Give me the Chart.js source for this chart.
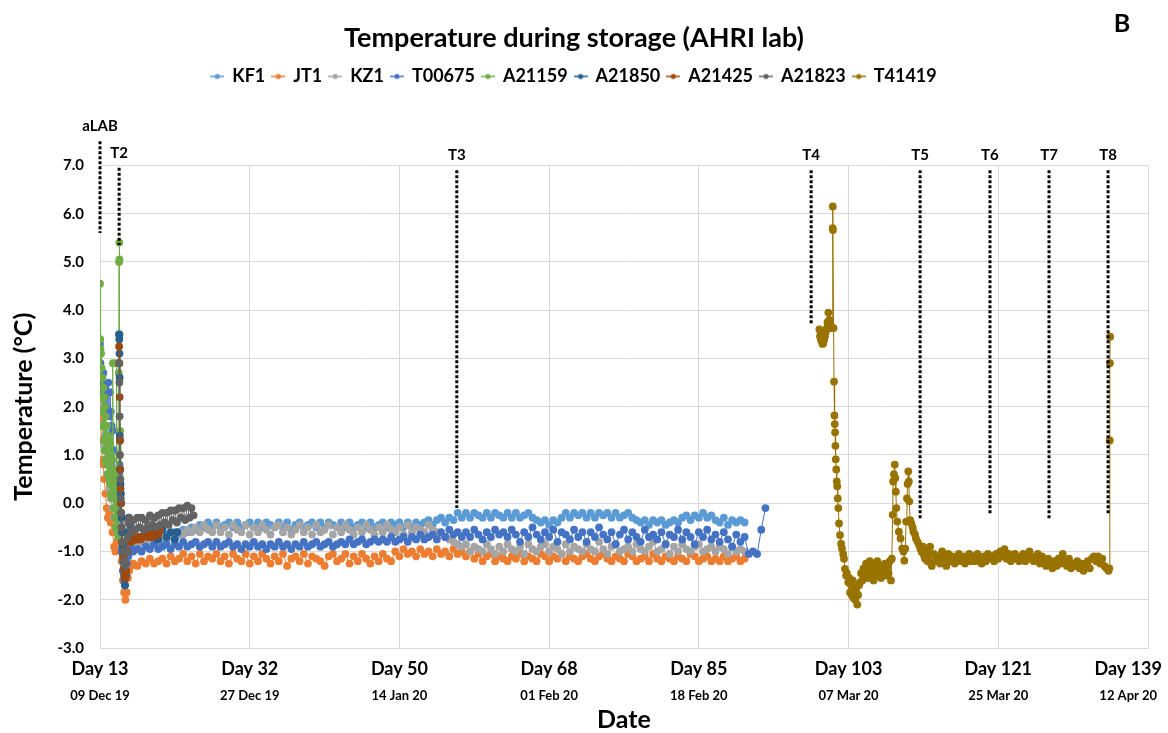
<!DOCTYPE html>
<html>
<head>
<meta charset="utf-8">
<title>Temperature during storage (AHRI lab)</title>
<script src="https://cdn.jsdelivr.net/npm/chart.js@4.4.1/dist/chart.umd.min.js"></script>
<style>
  html, body { margin: 0; padding: 0; background: #fff; }
  #wrap { width: 1168px; height: 733px; }
</style>
</head>
<body>
<div id="wrap"><canvas id="temp_canvas" width="1168" height="733"></canvas></div>
<script>
/*--------------------------------------------------------------------------------
----- DATA
--------------------------------------------------------------------------------*/

// x axis: storage day, one gridline every 18 days
const dayTicks = [13, 31, 49, 67, 85, 103, 121, 139];
const dayLabels = ['Day 13', 'Day 32', 'Day 50', 'Day 68', 'Day 85', 'Day 103', 'Day 121', 'Day 139'];
const dateLabels = ['09 Dec 19', '27 Dec 19', '14 Jan 20', '01 Feb 20', '18 Feb 20', '07 Mar 20', '25 Mar 20', '12 Apr 20'];

// sampling events (dotted vertical markers)
const markerNames = ['aLAB', 'T2', 'T3', 'T4', 'T5', 'T6', 'T7', 'T8'];
const markerDays = [13.0, 15.3, 55.9, 98.5, 111.6, 120.0, 127.1, 134.2];
const markerTop = [7.5, 6.95, 6.9, 6.9, 6.9, 6.9, 6.9, 6.9];
const markerBottom = [5.6, 5.35, -0.1, 3.7, -0.35, -0.25, -0.35, -0.25];

// logger readings: [day, temperature] for the irregular parts,
// plain temperature lists where the logger runs at a steady interval
const LOG_STEP = 0.5;

const kf1Early = [[13.0,2.9],[13.1,2.5],[13.2,2.2],[13.35,1.9],[13.5,1.6],[13.65,1.4],[13.8,1.2],[14.0,1.0],[14.2,0.8],[14.4,0.5],[14.6,0.2],[14.8,-0.1],[15.0,-0.3],[15.2,-0.4],[15.35,0.6],[15.5,-0.3],[15.7,-0.9],[15.9,-1.3],[16.1,-1.45],[16.3,-1.2],[16.5,-1.0],[16.75,-0.95]];
const kf1Log = [
  -0.9,-0.85,-0.8,-0.85,-0.75,-0.8,-0.7,-0.75,-0.65,-0.7,
  -0.6,-0.65,-0.55,-0.6,-0.5,-0.55,-0.45,-0.5,-0.4,-0.5,
  -0.4,-0.5,-0.45,-0.4,-0.5,-0.4,-0.5,-0.45,-0.4,-0.5,
  -0.4,-0.5,-0.4,-0.45,-0.5,-0.4,-0.5,-0.4,-0.55,-0.45,
  -0.4,-0.5,-0.45,-0.4,-0.5,-0.4,-0.5,-0.4,-0.45,-0.5,
  -0.4,-0.5,-0.4,-0.5,-0.45,-0.4,-0.5,-0.4,-0.5,-0.45,
  -0.4,-0.5,-0.4,-0.45,-0.4,-0.5,-0.4,-0.5,-0.4,-0.45,
  -0.4,-0.35,-0.45,-0.35,-0.3,-0.4,-0.3,-0.35,-0.2,-0.3,
  -0.2,-0.3,-0.2,-0.25,-0.3,-0.2,-0.3,-0.2,-0.25,-0.3,
  -0.2,-0.3,-0.2,-0.3,-0.25,-0.2,-0.3,-0.35,-0.4,-0.35,
  -0.45,-0.35,-0.4,-0.3,-0.2,-0.3,-0.2,-0.25,-0.2,-0.3,
  -0.2,-0.3,-0.2,-0.25,-0.2,-0.3,-0.2,-0.3,-0.25,-0.2,
  -0.3,-0.35,-0.4,-0.35,-0.45,-0.35,-0.4,-0.35,-0.45,-0.4,
  -0.35,-0.4,-0.3,-0.25,-0.35,-0.25,-0.3,-0.2,-0.3,-0.25,
  -0.35,-0.4,-0.3,-0.45,-0.35,-0.4,-0.35,-0.4
];

const jt1Early = [[13.0,2.2],[13.1,1.7],[13.2,1.3],[13.3,0.9],[13.4,0.8],[13.5,0.5],[13.65,0.2],[13.8,-0.1],[13.95,-0.3],[14.1,-0.2],[14.3,-0.4],[14.5,-0.6],[14.7,-0.9],[14.85,-1.0],[15.0,-0.8],[15.2,-0.5],[15.35,0.4],[15.45,-0.6],[15.6,-1.2],[15.75,-1.6],[15.9,-1.85],[16.05,-2.0],[16.2,-1.85],[16.35,-1.55],[16.5,-1.4],[16.7,-1.3],[16.85,-1.25]];
const jt1Log = [
  -1.25,-1.3,-1.2,-1.25,-1.15,-1.25,-1.2,-1.15,-1.25,-1.1,
  -1.2,-1.15,-1.05,-1.2,-1.1,-1.25,-1.05,-1.2,-1.1,-1.15,
  -1.05,-1.2,-1.1,-1.25,-1.05,-1.15,-1.2,-1.05,-1.25,-1.1,
  -1.2,-1.05,-1.15,-1.25,-1.1,-1.2,-1.05,-1.3,-1.15,-1.1,
  -1.2,-1.05,-1.25,-1.1,-1.15,-1.2,-1.3,-1.1,-1.05,-1.2,
  -1.15,-1.05,-1.25,-1.1,-1.2,-1.05,-1.15,-1.25,-1.1,-1.2,
  -1.05,-1.15,-1.2,-1.0,-1.1,-0.95,-1.05,-1.0,-1.1,-0.95,
  -1.05,-1.0,-1.1,-0.95,-1.05,-1.0,-1.1,-0.95,-1.05,-1.0,
  -1.1,-1.0,-1.15,-1.05,-1.2,-1.1,-1.05,-1.2,-1.1,-1.15,
  -1.2,-1.1,-1.15,-1.05,-1.2,-1.1,-1.15,-1.2,-1.05,-1.1,
  -1.2,-1.1,-1.15,-1.05,-1.2,-1.1,-1.15,-1.2,-1.1,-1.05,
  -1.15,-1.2,-1.1,-1.05,-1.15,-1.2,-1.1,-1.15,-1.2,-1.05,
  -1.1,-1.2,-1.15,-1.1,-1.2,-1.05,-1.15,-1.2,-1.1,-1.15,
  -1.2,-1.1,-1.15,-1.2,-1.05,-1.1,-1.2,-1.15,-1.1,-1.2,
  -1.15,-1.2,-1.1,-1.2,-1.15,-1.1,-1.2,-1.15
];

const kz1Early = [[13.0,2.5],[13.15,2.0],[13.3,1.6],[13.5,1.2],[13.7,0.9],[13.9,0.6],[14.1,0.3],[14.3,0.1],[14.5,-0.1],[14.7,-0.3],[14.9,-0.5],[15.1,-0.6],[15.3,0.2],[15.45,-0.4],[15.6,-0.9],[15.8,-1.2],[16.0,-1.35],[16.2,-1.2],[16.4,-1.0],[16.7,-0.9]];
const kz1Log = [
  -0.85,-0.9,-0.8,-0.85,-0.8,-0.75,-0.8,-0.7,-0.75,-0.65,
  -0.7,-0.6,-0.65,-0.55,-0.6,-0.5,-0.6,-0.45,-0.55,-0.6,
  -0.45,-0.6,-0.5,-0.65,-0.45,-0.55,-0.6,-0.45,-0.65,-0.5,
  -0.6,-0.45,-0.55,-0.65,-0.5,-0.45,-0.6,-0.5,-0.65,-0.55,
  -0.45,-0.6,-0.5,-0.65,-0.45,-0.6,-0.55,-0.45,-0.65,-0.5,
  -0.6,-0.45,-0.55,-0.65,-0.5,-0.6,-0.45,-0.55,-0.65,-0.5,
  -0.6,-0.45,-0.55,-0.6,-0.5,-0.65,-0.45,-0.6,-0.5,-0.55,
  -0.6,-0.45,-0.55,-0.6,-0.65,-0.7,-0.75,-0.8,-0.85,-0.9,
  -0.85,-1.0,-0.9,-0.95,-1.0,-0.85,-0.95,-1.05,-0.9,-1.0,
  -0.85,-0.95,-1.0,-0.9,-1.05,-0.85,-0.95,-1.0,-0.9,-0.85,
  -1.0,-0.9,-0.95,-1.05,-0.85,-1.0,-0.9,-0.95,-1.0,-0.85,
  -0.95,-1.0,-0.8,-0.95,-1.05,-0.9,-0.85,-1.0,-0.95,-0.9,
  -1.0,-0.85,-0.95,-1.0,-0.9,-0.8,-1.0,-0.95,-0.85,-1.05,
  -0.9,-1.0,-0.85,-0.95,-1.0,-0.9,-0.85,-1.0,-0.95,-0.9,
  -1.0,-0.9,-0.95,-1.05,-0.9,-1.0,-0.95,-1.0
];

const t00675Early = [[13.0,3.3],[13.05,2.9],[13.1,2.7],[13.15,2.5],[13.2,2.6],[13.3,2.3],[13.4,2.7],[13.5,2.2],[13.6,2.4],[13.7,2.0],[13.8,2.3],[13.9,1.9],[14.0,2.5],[14.1,1.8],[14.2,2.3],[14.3,1.9],[14.4,1.6],[14.5,1.5],[14.65,1.1],[14.8,0.6],[14.95,0.2],[15.1,-0.1],[15.25,-0.2],[15.35,0.8],[15.45,-0.3],[15.6,-1.0],[15.75,-1.4],[15.9,-1.6],[16.0,-1.7],[16.1,-1.5],[16.25,-1.25],[16.4,-1.1],[16.6,-1.0],[16.8,-0.95]];
const t00675Log = [
  -1.0,-0.95,-1.0,-0.9,-0.95,-0.85,-0.95,-0.9,-0.85,-0.95,
  -0.85,-0.9,-0.8,-0.9,-0.85,-0.8,-0.9,-0.85,-0.8,-0.9,
  -0.8,-0.9,-0.85,-0.8,-0.9,-0.85,-0.95,-0.85,-0.9,-0.8,
  -0.9,-0.85,-0.95,-0.85,-0.9,-0.8,-0.9,-0.85,-0.95,-0.85,
  -0.9,-0.8,-0.9,-0.85,-0.8,-0.9,-0.85,-0.8,-0.9,-0.85,
  -0.8,-0.85,-0.75,-0.85,-0.8,-0.75,-0.85,-0.8,-0.75,-0.8,
  -0.75,-0.8,-0.7,-0.8,-0.75,-0.7,-0.8,-0.7,-0.75,-0.65,
  -0.75,-0.7,-0.65,-0.75,-0.6,-0.7,-0.55,-0.65,-0.6,-0.7,
  -0.6,-0.7,-0.55,-0.65,-0.75,-0.6,-0.7,-0.55,-0.65,-0.6,
  -0.7,-0.55,-0.65,-0.8,-0.6,-0.7,-0.5,-0.65,-0.75,-0.6,
  -0.7,-0.55,-0.8,-0.6,-0.65,-0.75,-0.55,-0.7,-0.6,-0.8,
  -0.6,-0.7,-0.5,-0.65,-0.75,-0.6,-0.85,-0.65,-0.55,-0.75,
  -0.6,-0.7,-0.8,-0.55,-0.7,-0.65,-0.75,-0.6,-0.85,-0.65,
  -0.7,-0.55,-0.75,-0.6,-0.7,-0.85,-0.6,-0.7,-0.55,-0.75,
  -0.65,-0.8,-0.6,-0.75,-0.9,-0.65,-0.8,-0.7,-1.05,-1.0,
  -1.05,-0.55,-0.1
];

const a21159Pairs = [[13.0,4.55],[13.03,3.4],[13.06,3.2],[13.1,2.6],[13.13,3.1],[13.17,2.2],[13.2,2.8],[13.25,1.9],[13.3,2.6],[13.35,1.6],[13.4,2.4],[13.45,1.3],[13.5,2.2],[13.55,1.1],[13.6,2.0],[13.65,0.9],[13.7,1.8],[13.8,0.8],[13.85,1.6],[13.9,0.6],[14.0,1.4],[14.05,0.5],[14.1,1.3],[14.2,0.4],[14.25,1.2],[14.3,0.2],[14.4,1.0],[14.45,0.1],[14.5,0.9],[14.55,2.9],[14.6,0.7],[14.65,-0.1],[14.7,0.6],[14.8,-0.3],[14.85,0.4],[14.9,-0.5],[14.95,0.3],[15.0,2.9],[15.05,0.1],[15.1,-0.6],[15.15,0.0],[15.2,-0.7],[15.25,2.7],[15.28,3.5],[15.3,5.0],[15.32,5.4],[15.34,5.05],[15.36,3.5],[15.42,1.5],[15.5,0.2]];

const a21850Pairs = [[15.3,3.5],[15.32,3.4],[15.34,3.1],[15.36,2.6],[15.38,1.4],[15.4,1.3],[15.43,0.7],[15.46,0.4],[15.5,0.2],[15.55,0.0],[15.6,-0.3],[15.65,-0.6],[15.7,-0.9],[15.8,-1.2],[15.9,-1.5],[16.0,-1.7],[16.1,-1.5],[16.2,-1.0],[16.3,-0.6],[16.45,-0.3],[16.6,-0.45],[16.8,-0.6],[17.0,-0.7],[17.5,-0.75],[18.0,-0.7],[18.5,-0.65],[19.0,-0.7],[19.5,-0.6],[20.0,-0.75],[20.5,-0.55],[21.0,-0.7],[21.5,-0.6],[22.0,-0.75],[22.3,-0.6]];

const a21425Pairs = [[15.3,3.25],[15.33,2.9],[15.36,2.2],[15.4,1.3],[15.43,0.7],[15.47,0.3],[15.5,0.0],[15.55,-0.2],[15.6,-0.5],[15.65,-0.8],[15.75,-1.1],[15.85,-1.35],[15.95,-1.5],[16.05,-1.55],[16.15,-1.4],[16.3,-1.0],[16.45,-0.8],[16.6,-0.75],[16.8,-0.8],[17.0,-0.7],[17.3,-0.75],[17.6,-0.7],[17.9,-0.75],[18.2,-0.7],[18.5,-0.65],[18.8,-0.7],[19.1,-0.65],[19.4,-0.7],[19.7,-0.6],[20.0,-0.65],[20.2,-0.55]];

const a21823Early = [[15.3,2.9],[15.33,2.5],[15.36,1.8],[15.4,1.0],[15.45,0.5],[15.5,0.1],[15.55,-0.2],[15.6,-0.5],[15.7,-0.8],[15.8,-1.0],[15.9,-1.2],[16.0,-1.3],[16.1,-1.25],[16.2,-1.0],[16.3,-0.7],[16.4,-0.4],[16.5,-0.3]];
const a21823Log = [
  -0.6,-0.35,-0.55,-0.3,-0.5,-0.3,-0.55,-0.35,-0.5,-0.25,
  -0.45,-0.3,-0.5,-0.25,-0.45,-0.2,-0.4,-0.2,-0.45,-0.15,
  -0.35,-0.15,-0.4,-0.1,-0.3,-0.1,-0.35,-0.05,-0.3,-0.1,
  -0.25
];

const t41419Early = [[99.49,3.6],[99.57,3.46],[99.67,3.4],[99.77,3.35],[99.87,3.3],[99.97,3.32],[100.07,3.4],[100.17,3.46],[100.27,3.55],[100.38,3.63],[100.47,3.75],[100.57,3.95],[100.69,3.8],[100.78,3.7],[100.86,3.63],[100.96,3.65],[101.05,3.63],[101.09,5.7],[101.1,6.15],[101.12,5.66],[101.2,3.63],[101.25,2.52],[101.3,1.82],[101.34,1.64],[101.38,1.47],[101.42,1.19],[101.46,0.91],[101.52,0.7],[101.58,0.45],[101.64,0.35],[101.7,0.1],[101.77,-0.1],[101.85,-0.42],[101.97,-0.66],[102.1,-0.84],[102.21,-0.94],[102.35,-1.05],[102.45,-1.15],[102.57,-1.36],[102.7,-1.5],[102.8,-1.45],[102.97,-1.64],[103.08,-1.55],[103.18,-1.85],[103.3,-1.7],[103.4,-1.9],[103.5,-1.6],[103.57,-1.96],[103.7,-1.75],[103.8,-2.0],[103.9,-1.8],[104.05,-2.1],[104.15,-1.9],[104.25,-1.7],[104.38,-1.64],
  [104.5,-1.45],[104.65,-1.6],[104.8,-1.35],[104.95,-1.5],[105.1,-1.25],[105.25,-1.55],[105.4,-1.4],[105.55,-1.2],[105.7,-1.5],[105.85,-1.35],[106.0,-1.6],[106.15,-1.3],[106.3,-1.45],[106.45,-1.2],[106.6,-1.5],[106.75,-1.35],[106.9,-1.55],[107.05,-1.3],[107.2,-1.45],[107.35,-1.25],[107.5,-1.5],[107.65,-1.3],[107.8,-1.45],[107.95,-1.2],[108.1,-1.6],[108.2,-1.15],
  [108.3,-0.24],[108.36,0.45],[108.45,0.6],[108.55,0.8],[108.62,0.52],[108.68,0.24],[108.75,-0.1],[108.85,-0.38],[109.05,-0.59],[109.25,-0.73],[109.45,-0.94],[109.6,-1.0],[109.7,-1.19],[109.82,-0.94],[109.92,-0.38],[110.02,0.1],[110.1,0.4],[110.18,0.66],[110.25,0.45],[110.3,0.04],[110.4,-0.35],[110.55,-0.42],[110.7,-0.5],[110.8,-0.59],[111.0,-0.65],[111.1,-0.73],[111.3,-0.8],[111.5,-0.87],[111.65,-0.95],[111.8,-1.01],[111.95,-0.9],[112.1,-1.1],[112.2,-1.15],[112.35,-1.0],[112.5,-1.2],[112.65,-1.1],[112.8,-0.9],[112.9,-1.25]];
const t41419Log = [
  -1.3,-1.05,-1.2,-1.1,-1.25,-1.0,-1.15,-1.3,-1.05,-1.2,
  -1.1,-1.25,-1.15,-1.05,-1.2,-1.1,-1.25,-1.15,-1.05,-1.2,
  -1.1,-1.2,-1.05,-1.15,-1.25,-1.1,-1.2,-1.05,-1.15,-1.1,
  -1.2,-1.05,-1.15,-1.0,-1.1,-0.95,-1.15,-1.05,-1.2,-1.1,
  -1.05,-1.15,-1.2,-1.1,-1.05,-1.2,-1.15,-1.0,-1.1,-1.2,
  -1.15,-1.05,-1.25,-1.1,-1.2,-1.3,-1.15,-1.25,-1.35,-1.2,
  -1.3,-1.15,-1.25,-1.05,-1.2,-1.3,-1.15,-1.35,-1.25,-1.3,
  -1.2,-1.35,-1.25,-1.4,-1.3,-1.2,-1.35,-1.15,-1.1,-1.2,
  -1.1,-1.25,-1.15,-1.3,-1.35,-1.4
];
const t41419Tail = [[134.35,-1.35],[134.4,1.3],[134.42,2.9],[134.45,3.45]];

/*--------------------------------------------------------------------------------
----- HELPERS
--------------------------------------------------------------------------------*/

const SANS = 'Lato, "Open Sans", sans-serif';

function pairs(list) {
    return list.map(([day, temp]) => ({ x: day, y: temp }));
}

// readings taken every `step` days from `start`
function logged(start, step, temps) {
    return temps.map((temp, i) => ({ x: start + i * step, y: temp }));
}

// small "line with a dot" swatch like the Excel legend
function legendSwatch(color) {
    let c = document.createElement('canvas');
    c.width = 14;
    c.height = 8;
    let g = c.getContext('2d');
    g.strokeStyle = color;
    g.lineWidth = 1.5;
    g.beginPath();
    g.moveTo(0, 4);
    g.lineTo(14, 4);
    g.stroke();
    g.fillStyle = color;
    g.beginPath();
    g.arc(7, 4, 2.6, 0, Math.PI * 2);
    g.fill();
    return c;
}

/*--------------------------------------------------------------------------------
----- DATASETS
--------------------------------------------------------------------------------*/

let loggers = [
    { label: 'KF1', color: '#5B9BD5', data: pairs(kf1Early).concat(logged(17, LOG_STEP, kf1Log)) },
    { label: 'JT1', color: '#ED7D31', data: pairs(jt1Early).concat(logged(17, LOG_STEP, jt1Log)) },
    { label: 'KZ1', color: '#A5A5A5', data: pairs(kz1Early).concat(logged(17, LOG_STEP, kz1Log)) },
    { label: 'T00675', color: '#4472C4', data: pairs(t00675Early).concat(logged(17, LOG_STEP, t00675Log)) },
    { label: 'A21159', color: '#70AD47', data: pairs(a21159Pairs) },
    { label: 'A21850', color: '#255E91', data: pairs(a21850Pairs) },
    { label: 'A21425', color: '#9E480E', data: pairs(a21425Pairs) },
    { label: 'A21823', color: '#636363', data: pairs(a21823Early).concat(logged(16.75, 0.25, a21823Log)) },
    { label: 'T41419', color: '#997300', data: pairs(t41419Early).concat(logged(113, 0.25, t41419Log), pairs(t41419Tail)) }
];

let datasets = loggers.map((s, i) => ({
    label: s.label,
    data: s.data,
    borderColor: s.color,
    backgroundColor: s.color,
    borderWidth: 1,
    pointRadius: 3.9,
    pointBorderWidth: 0,
    pointHoverRadius: 3.9,
    tension: 0,
    order: 20 - i   // later series drawn on top, as in Excel
}));

markerNames.forEach((name, i) => {
    datasets.push({
        label: name,
        isMarker: true,
        data: [{ x: markerDays[i], y: markerTop[i] }, { x: markerDays[i], y: markerBottom[i] }],
        borderColor: '#000',
        borderWidth: 3,
        borderDash: [3, 2],
        pointRadius: 0,
        clip: false,
        order: 0
    });
});

/*--------------------------------------------------------------------------------
----- EXTRA TEXT (two-line x labels, marker names, panel letter)
--------------------------------------------------------------------------------*/

const extraText = {
    id: 'extraText',
    afterDraw(chart) {
        let ctx = chart.ctx;
        let x = chart.scales.x;
        ctx.save();
        ctx.fillStyle = '#000';
        ctx.textAlign = 'center';
        ctx.textBaseline = 'middle';

        dayTicks.forEach((day, i) => {
            ctx.font = 'bold 18px ' + SANS;
            let w = ctx.measureText(dayLabels[i]).width;
            let px = Math.min(x.getPixelForValue(day), chart.width - w / 2 - 6);
            ctx.fillText(dayLabels[i], px, x.top + 21);
            ctx.font = 'bold 13px ' + SANS;
            ctx.fillText(dateLabels[i], px, x.top + 48);
        });

        chart.data.datasets.forEach((ds, i) => {
            if (!ds.isMarker) return;
            let top = chart.getDatasetMeta(i).data[0];
            ctx.font = 'bold 15px ' + SANS;
            ctx.fillText(ds.label, top.x, top.y - 15);
        });

        ctx.font = 'bold 25px ' + SANS;
        ctx.fillText('B', 1122, 24);
        ctx.restore();
    }
};

/*--------------------------------------------------------------------------------
----- CHART
--------------------------------------------------------------------------------*/

Chart.defaults.color = '#000';

let context = document.getElementById('temp_canvas').getContext('2d');

let temperature_chart = new Chart(context, {
    type: 'line',
    data: { datasets: datasets },
    plugins: [extraText],
    options: {
        responsive: false,
        animation: false,
        layout: { padding: { left: 0, right: 20, top: 0, bottom: 0 } },
        plugins: {
            tooltip: { enabled: false },
            title: {
                display: true,
                text: 'Temperature during storage (AHRI lab)',
                font: { family: SANS, size: 27, weight: 'bold', lineHeight: 1.2 },
                padding: { top: 22, bottom: 6 }
            },
            // empty subtitle only keeps a gap between the legend and the plot
            subtitle: {
                display: true,
                text: '',
                weight: 500,
                font: { size: 1, lineHeight: 1 },
                padding: { top: 0, bottom: 69 }
            },
            legend: {
                position: 'top',
                labels: {
                    usePointStyle: true,
                    pointStyleWidth: 12,
                    padding: 7,
                    font: { family: SANS, size: 18, weight: 'bold' },
                    filter: (item, data) => !data.datasets[item.datasetIndex].isMarker,
                    sort: (a, b) => a.datasetIndex - b.datasetIndex,
                    generateLabels(chart) {
                        let items = Chart.defaults.plugins.legend.labels.generateLabels(chart);
                        items.forEach(it => { it.pointStyle = legendSwatch(it.strokeStyle); it.lineDash = []; });
                        return items;
                    }
                }
            }
        },
        scales: {
            x: {
                type: 'linear',
                min: 13,
                max: 139,
                afterBuildTicks: scale => { scale.ticks = dayTicks.map(v => ({ value: v })); },
                afterFit: scale => { scale.height = 85; },
                ticks: { display: false },
                grid: { color: '#d9d9d9', drawTicks: false },
                border: { color: '#d9d9d9' },
                title: {
                    display: true,
                    text: 'Date',
                    font: { family: SANS, size: 25, weight: 'bold', lineHeight: 1 },
                    padding: { top: 0, bottom: 1 }
                }
            },
            y: {
                min: -3,
                max: 7,
                afterFit: scale => { scale.width = 100; },
                ticks: {
                    stepSize: 1,
                    padding: 16,
                    font: { family: SANS, size: 15, weight: 'bold' },
                    callback: v => v.toFixed(1)
                },
                grid: { color: '#d9d9d9', drawTicks: false },
                border: { color: '#d9d9d9' },
                title: {
                    display: true,
                    text: 'Temperature (°C)',
                    font: { family: SANS, size: 25, weight: 'bold', lineHeight: 1 },
                    padding: { top: 11, bottom: 0 }
                }
            }
        }
    }
});
</script>
</body>
</html>
